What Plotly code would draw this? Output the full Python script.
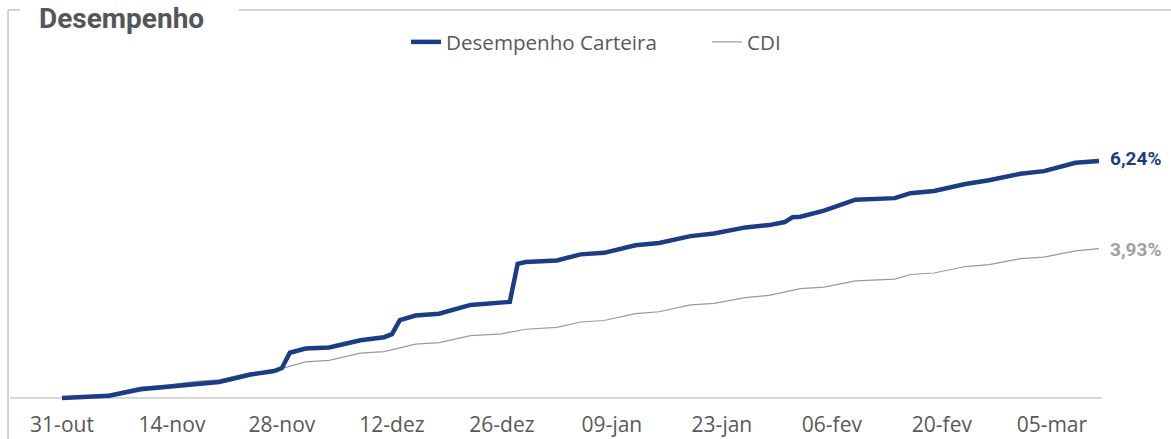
import plotly.graph_objects as go

# ---------------- data ----------------
carteira_dates = [
    "2023-10-31", "2023-11-03", "2023-11-06", "2023-11-10", "2023-11-13", "2023-11-17",
    "2023-11-20", "2023-11-24", "2023-11-27", "2023-11-28", "2023-11-29", "2023-12-01",
    "2023-12-04", "2023-12-08", "2023-12-11", "2023-12-12", "2023-12-13", "2023-12-15",
    "2023-12-18", "2023-12-22", "2023-12-26", "2023-12-27", "2023-12-28", "2023-12-29",
    "2024-01-02", "2024-01-05", "2024-01-08", "2024-01-12", "2024-01-15", "2024-01-19",
    "2024-01-22", "2024-01-26", "2024-01-29", "2024-01-31", "2024-02-01", "2024-02-02",
    "2024-02-05", "2024-02-07", "2024-02-09", "2024-02-14", "2024-02-16", "2024-02-19",
    "2024-02-23", "2024-02-26", "2024-03-01", "2024-03-04", "2024-03-08", "2024-03-11",
]
carteira_values = [
    0.00, 0.02, 0.06, 0.23, 0.29, 0.37,
    0.42, 0.62, 0.71, 0.79, 1.19, 1.30,
    1.33, 1.52, 1.60, 1.68, 2.05, 2.17,
    2.22, 2.45, 2.50, 2.53, 3.53, 3.58,
    3.62, 3.78, 3.82, 4.02, 4.08, 4.26,
    4.33, 4.49, 4.55, 4.63, 4.76, 4.77,
    4.93, 5.08, 5.22, 5.26, 5.39, 5.45,
    5.63, 5.73, 5.90, 5.97, 6.19, 6.24,
]

cdi_dates = [
    "2023-10-31", "2023-11-03", "2023-11-06", "2023-11-10", "2023-11-13", "2023-11-17",
    "2023-11-20", "2023-11-24", "2023-11-27", "2023-12-01", "2023-12-04", "2023-12-08",
    "2023-12-11", "2023-12-15", "2023-12-18", "2023-12-22", "2023-12-26", "2023-12-29",
    "2024-01-02", "2024-01-05", "2024-01-08", "2024-01-12", "2024-01-15", "2024-01-19",
    "2024-01-22", "2024-01-26", "2024-01-29", "2024-02-02", "2024-02-05", "2024-02-09",
    "2024-02-14", "2024-02-16", "2024-02-19", "2024-02-23", "2024-02-26", "2024-03-01",
    "2024-03-04", "2024-03-08", "2024-03-11",
]
cdi_values = [
    0.00, 0.06, 0.10, 0.29, 0.33, 0.44,
    0.48, 0.66, 0.72, 0.95, 0.99, 1.18,
    1.22, 1.42, 1.46, 1.64, 1.69, 1.81,
    1.86, 2.00, 2.04, 2.22, 2.27, 2.45,
    2.49, 2.64, 2.70, 2.88, 2.92, 3.08,
    3.13, 3.25, 3.29, 3.46, 3.51, 3.67,
    3.71, 3.87, 3.93,
]

tick_dates = ["2023-10-31", "2023-11-14", "2023-11-28", "2023-12-12", "2023-12-26",
              "2024-01-09", "2024-01-23", "2024-02-06", "2024-02-20", "2024-03-05"]
tick_labels = ["31-out", "14-nov", "28-nov", "12-dez", "26-dez",
               "09-jan", "23-jan", "06-fev", "20-fev", "05-mar"]

series_names = ["Desempenho Carteira", "CDI"]
end_labels = ["6,24%", "3,93%"]

BLUE = "#1B3D85"
GRAY = "#9A9A9A"
LABEL_GRAY = "#A0A0A0"
TEXT = "#595959"

# ---------------- layout geometry ----------------
W, H = 1171, 439
ML, MR, MT, MB = 10, 69, 60, 37
PW = W - ML - MR
PH = H - MT - MB


def px_x(p):
    return (p - ML) / PW


def px_y(p):
    return (H - MB - p) / PH


fig = go.Figure()

fig.add_trace(go.Scatter(
    x=cdi_dates, y=cdi_values, name=series_names[1], mode="lines",
    line=dict(color=GRAY, width=1.2),
))
fig.add_trace(go.Scatter(
    x=carteira_dates, y=carteira_values, name=series_names[0], mode="lines",
    line=dict(color=BLUE, width=4.5),
))

annotations = [
    dict(x=carteira_dates[-1], y=carteira_values[-1], xref="x", yref="y",
         text="<b>" + end_labels[0] + "</b>", showarrow=False, xanchor="left",
         yanchor="middle", xshift=9, yshift=2,
         font=dict(family="Roboto", size=19, color=BLUE)),
    dict(x=cdi_dates[-1], y=cdi_values[-1], xref="x", yref="y",
         text="<b>" + end_labels[1] + "</b>", showarrow=False, xanchor="left",
         yanchor="middle", xshift=9, yshift=-1,
         font=dict(family="Roboto", size=19, color=LABEL_GRAY)),
    dict(x=px_x(37), y=px_y(18), xref="paper", yref="paper",
         text="<b>Desempenho</b>", showarrow=False, xanchor="left", yanchor="middle",
         font=dict(family="Roboto", size=28, color="#53565A")),
]

border = dict(color="#A6A6A6", width=1)
shapes = [
    dict(type="line", xref="paper", yref="paper", x0=px_x(8), x1=px_x(8),
         y0=px_y(10), y1=px_y(460), line=border),
    dict(type="line", xref="paper", yref="paper", x0=px_x(8), x1=px_x(20),
         y0=px_y(10), y1=px_y(10), line=border),
    dict(type="line", xref="paper", yref="paper", x0=px_x(239), x1=px_x(1190),
         y0=px_y(10), y1=px_y(10), line=border),
]

fig.update_layout(
    width=W, height=H,
    margin=dict(l=ML, r=MR, t=MT, b=MB, autoexpand=False),
    paper_bgcolor="white", plot_bgcolor="white",
    showlegend=True,
    legend=dict(orientation="h", x=px_x(406), xanchor="left", y=px_y(42), yanchor="middle",
                traceorder="reversed", font=dict(family="Open Sans", size=20.6, color=TEXT),
                entrywidth=256, entrywidthmode="pixels", bgcolor="rgba(0,0,0,0)"),
    annotations=annotations,
    shapes=shapes,
)

fig.update_xaxes(
    type="date", automargin=False,
    range=["2023-10-24 09:08", "2024-03-11 09:08"],
    tickmode="array", tickvals=tick_dates, ticktext=tick_labels,
    showgrid=False, zeroline=False, showline=False, ticks="",
    tickfont=dict(family="Open Sans", size=21, color=TEXT),
    ticklabelstandoff=8,
)
fig.update_yaxes(
    automargin=False,
    range=[-0.105, 8.895], showgrid=False, showticklabels=False, ticks="",
    zeroline=True, zerolinecolor="#D9D9D9", zerolinewidth=2, showline=False,
)

fig.write_html("out.html", config={"displayModeBar": False},
               post_script="document.body.style.margin='0px';")
